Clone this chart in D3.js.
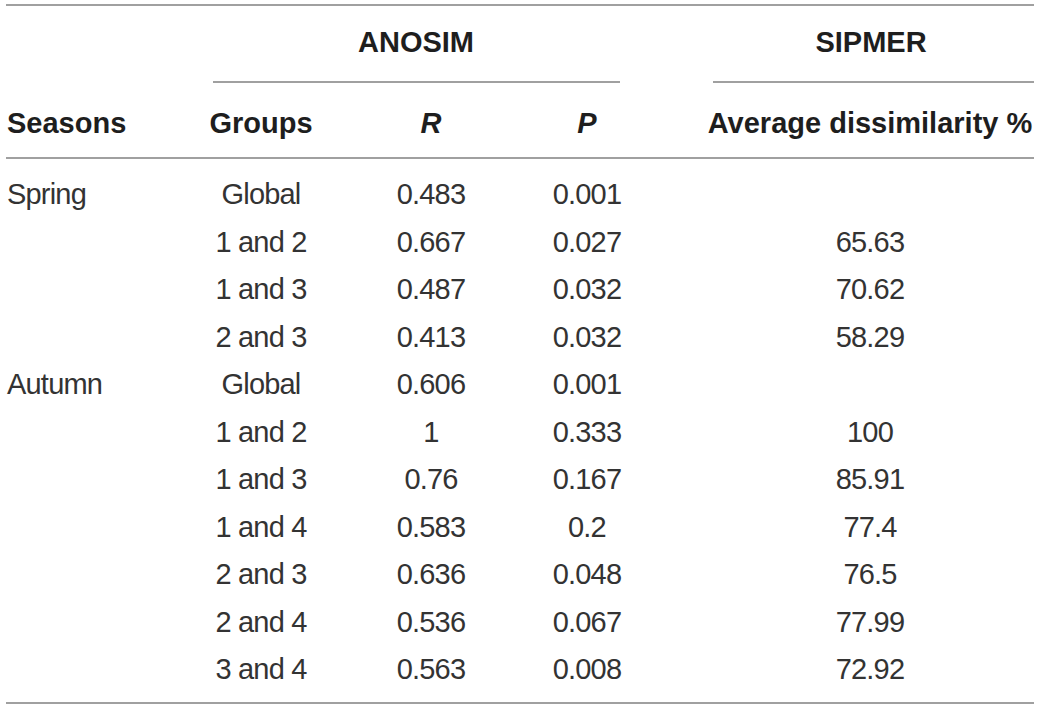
<!DOCTYPE html>
<html>
<head>
<meta charset="utf-8">
<script src="https://cdn.jsdelivr.net/npm/d3@7"></script>
<style>
  html, body { margin: 0; padding: 0; background: #fff; }
  svg { display: block; }
</style>
</head>
<body>
<svg id="chart" width="1040" height="709"></svg>
<script>
// ---- Data ----
const seasons = ["Spring", "", "", "", "Autumn", "", "", "", "", "", ""];
const groups = ["Global", "1 and 2", "1 and 3", "2 and 3", "Global", "1 and 2", "1 and 3", "1 and 4", "2 and 3", "2 and 4", "3 and 4"];
const rValues = ["0.483", "0.667", "0.487", "0.413", "0.606", "1", "0.76", "0.583", "0.636", "0.536", "0.563"];
const pValues = ["0.001", "0.027", "0.032", "0.032", "0.001", "0.333", "0.167", "0.2", "0.048", "0.067", "0.008"];
const dissimilarity = ["", "65.63", "70.62", "58.29", "", "100", "85.91", "77.4", "76.5", "77.99", "72.92"];
const groupHeaders = ["ANOSIM", "SIPMER"];
const columnHeaders = ["Seasons", "Groups", "R", "P", "Average dissimilarity %"];

// ---- Layout ----
const svg = d3.select("#chart");
const font = "'Liberation Sans', Arial, Helvetica, sans-serif";
const fs = 29;
const textColor = "#333333";
const headColor = "#1e1e1e";
const lineColor = "#808080";

const colX = [7, 261, 431, 587, 870];
const colAnchor = ["start", "middle", "middle", "middle", "middle"];

const y = d3.scalePoint()
  .domain(d3.range(groups.length))
  .range([193, 668]);

const lines = [
  { x1: 6, x2: 1034, y: 5 },
  { x1: 213, x2: 620, y: 82 },
  { x1: 713, x2: 1034, y: 82 },
  { x1: 6, x2: 1034, y: 158 },
  { x1: 6, x2: 1034, y: 703 }
];
svg.selectAll("line.rule").data(lines).join("line")
  .attr("class", "rule")
  .attr("x1", d => d.x1).attr("x2", d => d.x2)
  .attr("y1", d => d.y).attr("y2", d => d.y)
  .attr("stroke", lineColor).attr("stroke-width", 1.6);

// group headers
const ghX = [416, 871];
svg.selectAll("text.gh").data(groupHeaders).join("text")
  .attr("class", "gh")
  .attr("x", (d, i) => ghX[i]).attr("y", 52)
  .attr("text-anchor", "middle")
  .attr("font-family", font).attr("font-size", fs).attr("font-weight", "bold")
  .attr("fill", headColor)
  .text(d => d);

// column headers
svg.selectAll("text.ch").data(columnHeaders).join("text")
  .attr("class", "ch")
  .attr("x", (d, i) => colX[i]).attr("y", 133)
  .attr("text-anchor", (d, i) => colAnchor[i])
  .attr("font-family", font).attr("font-size", fs).attr("font-weight", "bold")
  .attr("font-style", (d, i) => (i === 2 || i === 3) ? "italic" : "normal")
  .attr("fill", headColor)
  .text(d => d);

// body
const cols = [seasons, groups, rValues, pValues, dissimilarity];
cols.forEach((col, ci) => {
  svg.selectAll("text.c" + ci).data(col).join("text")
    .attr("class", "c" + ci)
    .attr("x", colX[ci])
    .attr("y", (d, i) => y(i) + 11)
    .attr("text-anchor", colAnchor[ci])
    .attr("font-family", font).attr("font-size", fs)
    .attr("letter-spacing", -0.8)
    .attr("fill", textColor)
    .text(d => d);
});
</script>
</body>
</html>
